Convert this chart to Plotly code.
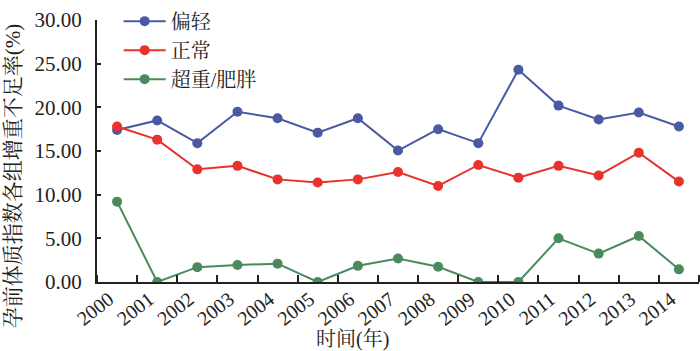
import plotly.graph_objects as go

years = [str(y) for y in range(2000, 2015)]
underweight = [17.4, 18.5, 15.9, 19.5, 18.75, 17.1, 18.75, 15.05, 17.5, 15.9, 24.3, 20.2, 18.6, 19.4, 17.8]
normal = [17.8, 16.3, 12.9, 13.3, 11.75, 11.4, 11.75, 12.6, 11.0, 13.4, 11.95, 13.3, 12.2, 14.8, 11.5]
overweight = [9.2, 0.0, 1.7, 1.95, 2.1, 0.0, 1.85, 2.7, 1.75, 0.0, 0.0, 5.0, 3.25, 5.27, 1.45]
series_names = ["偏轻", "正常", "超重/肥胖"]
y_ticks = [0, 5, 10, 15, 20, 25, 30]

colors = ["#4a5aa2", "#e8322b", "#4a8a5c"]
xpos = [i + 0.5 for i in range(len(years))]

fig = go.Figure()
for name, vals, col in zip(series_names, [underweight, normal, overweight], colors):
    fig.add_trace(go.Scatter(
        x=xpos, y=vals, name=name, mode="lines+markers",
        line=dict(color=col, width=2),
        marker=dict(color=col, size=10),
    ))

font_main = "Times New Roman, Liberation Serif, Noto Serif CJK SC, Noto Sans CJK SC, serif"
fig.update_layout(
    width=700, height=351,
    margin=dict(l=97, r=1, t=20, b=69),
    paper_bgcolor="white", plot_bgcolor="white",
    font=dict(family=font_main, size=20, color="#222"),
    showlegend=True,
    legend=dict(x=0.036, y=1.07, xanchor="left", yanchor="top",
                bgcolor="rgba(0,0,0,0)", font=dict(size=20, family=font_main),
                tracegroupgap=0, itemwidth=42),
    xaxis=dict(
        range=[0, len(years)], showgrid=False, zeroline=False,
        showline=True, linecolor="#222", linewidth=2,
        tickvals=[i + 0.3 for i in range(len(years))], ticktext=years,
        ticks="", tickangle=-38, tickfont=dict(size=20, family=font_main),
        ticklabelstandoff=-4,
        minor=dict(tickvals=list(range(len(years) + 1)), ticks="inside",
                   ticklen=7, tickcolor="#222", tickwidth=1.5),
    ),
    yaxis=dict(
        range=[0, 30], showgrid=False, zeroline=False,
        showline=True, linecolor="#222", linewidth=2,
        tickvals=y_ticks, ticktext=[f"{v:.2f}" for v in y_ticks],
        ticks="inside", ticklen=4, tickcolor="#222", tickwidth=1.5,
        tickfont=dict(size=21, family=font_main), ticklabelstandoff=9,
    ),
    annotations=[
        dict(text="孕前体质指数各组增重不足率(%)", textangle=-90,
             xref="paper", yref="paper", x=-0.139, y=0.405,
             xanchor="center", yanchor="middle", showarrow=False,
             font=dict(size=21, family=font_main)),
        dict(text="时间(年)", xref="paper", yref="paper", x=0.425, y=-0.22,
             xanchor="center", yanchor="middle", showarrow=False,
             font=dict(size=20, family=font_main)),
    ],
)
fig.write_html("out.html")
